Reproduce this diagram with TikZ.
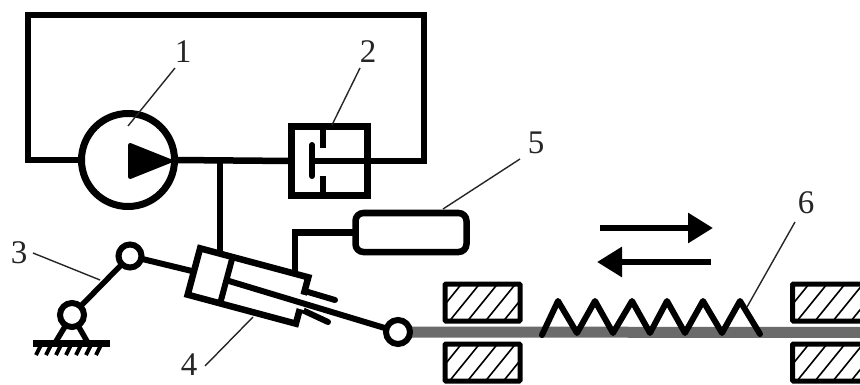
\documentclass[tikz,border=0pt]{standalone}
\usepackage{fontspec}
\setmainfont{Liberation Serif}
\usetikzlibrary{arrows.meta,calc}

\begin{document}
\begin{tikzpicture}[x=1pt,y=-1pt,line join=miter,
 pipe/.style={line width=6.5pt,draw=black},
 joint/.style={draw,circle,line width=6pt,fill=white,minimum size=24pt,inner sep=0pt,outer sep=0pt},
 leader/.style={line width=1.4pt,draw=black!85},
 numlabel/.style={font=\fontsize{33}{33}\selectfont,text=black!85,inner sep=0pt},
 bearing/.style={draw,line width=5pt,rounded corners=1pt,minimum width=75pt,minimum height=37pt,inner sep=0pt,outer sep=0pt,
  path picture={\foreach \k in {-72,-54,...,72} \draw[line width=1.6pt] ([xshift=\k pt-15pt]path picture bounding box.south) -- ([xshift=\k pt+15pt]path picture bounding box.north);}},
 motion/.style={line width=6pt,-{Triangle[length=25pt,width=29pt]}}]
\useasboundingbox (0,0) rectangle (860,385);
\clip (0,0) rectangle (860,385);
\fill[white] (0,0) rectangle (860,385);
% shaft
\coordinate (shaftstart) at (398,332);
\coordinate (shaftend) at (860,332.5);
\draw[line width=11pt,draw=black!58] (shaftstart) -- (shaftend);
% hydraulic circuit
\node[draw,circle,line width=7pt,minimum size=93pt,inner sep=0pt,outer sep=0pt,fill=white] (pump) at (128,160) {};
\node[draw,line width=7pt,minimum width=76pt,minimum height=69pt,inner sep=0pt,outer sep=0pt,fill=white] (valve) at (329.5,161) {};
\coordinate (looptl) at (28,15);
\coordinate (looptr) at (424,15);
\coordinate (tee) at (220,161);
\draw[pipe] (pump.west) -| (looptl) -- (looptr) |- (valve.east);
\draw[pipe] (pump.east) -- (valve.west);
\draw[line width=4pt,line join=round,fill=black] (130,145) -- (170,161) -- (130,177) -- cycle;
\coordinate (spool) at (312,161);
\draw[line width=6pt,line cap=round] (312,145) -- (312,176);
\draw[line width=6pt] (spool) -- (valve.east);
\draw[line width=6pt] (valve.north -| 323,0) -- (323,148);
\draw[line width=6pt] (valve.south -| 323,0) -- (323,176);
% cylinder
\coordinate (cylport) at (220,258);
\draw[pipe] (tee) -- (cylport);
\node[draw,line width=6.5pt,rounded corners=8pt,minimum width=111pt,minimum height=39pt,fill=white,inner sep=0pt,outer sep=0pt] (sensor) at (411,232.5) {};
\coordinate (sensorport) at (295,275);
\draw[pipe] (sensor.west) -| (sensorport);
\draw[line width=6pt,line cap=round] (308,292) -- (335,300);
\draw[line width=6pt,line cap=round] (298,308) -- (328,322);
\node[draw,line width=6.5pt,rotate=-15,minimum width=112pt,minimum height=48pt,inner sep=0pt,outer sep=0pt,fill=white] (cyl) at (248,286) {};
\coordinate (pistontop) at ($(cyl.north west)!0.3!(cyl.north east)$);
\coordinate (pistonbot) at ($(cyl.south west)!0.3!(cyl.south east)$);
\coordinate (piston) at ($(pistontop)!0.5!(pistonbot)$);
\node[joint] (rodend) at (398,332) {};
\draw[white,line width=8pt] (304,295) -- (300,309);
\draw[line width=6pt] (pistontop) -- (pistonbot);
\draw[line width=6pt] (piston) -- (rodend);
% crank
\node[joint,minimum size=23pt] (crank) at (130,256) {};
\node[joint] (pivot) at (72,315) {};
\coordinate (groundl) at (33,343);
\coordinate (groundr) at (110,343);
\draw[line width=5.5pt] (pivot) -- (crank);
\draw[line width=6pt] (crank) -- (cyl.west);
\draw[line width=5.5pt] (pivot) -- (55,343);
\draw[line width=5.5pt] (pivot) -- (88,343);
\draw[line width=7pt] (groundl) -- (groundr);
\foreach \x in {41,51,...,108}
 \draw[line width=4pt] (\x,345) -- (\x-5,355);
% bearings
\node[bearing] (bearingtl) at (482.5,302.5) {};
\node[bearing] (bearingbl) at (482.5,362.5) {};
\node[bearing] (bearingtr) at (830,302.5) {};
\node[bearing] (bearingbr) at (830,362.5) {};
% spring
\draw[line width=6pt,line cap=round,line join=round] (542,335) -- (558,301) -- (577,333) -- (595,301) -- (613,333) -- (632,301) -- (650,333) -- (667,301) -- (685,333) -- (703,301) -- (722,333) -- (740,301) -- (760,334);
% direction
\coordinate (fwdstart) at (600,228);
\coordinate (fwdend) at (713,228);
\coordinate (backstart) at (711,262);
\coordinate (backend) at (597,262);
\draw[motion] (fwdstart) -- (fwdend);
\draw[motion] (backstart) -- (backend);
% labels
\node[numlabel] (num1) at (183,52) {1};
\node[numlabel] (num2) at (368,52) {2};
\node[numlabel] (num3) at (19,253) {3};
\node[numlabel] (num4) at (189,365) {4};
\node[numlabel] (num5) at (536,143) {5};
\node[numlabel] (num6) at (806,203) {6};
\draw[leader] (num1) ++(-8,16) -- (128,126);
\draw[leader] (num2) ++(-8,16) -- (332,125);
\draw[leader] (33,253) -- (100,280);
\draw[leader] (205,366) -- (253,317);
\draw[leader] (num5) ++(-16,16) -- (443,209);
\draw[leader] (795,222) -- (747,307);
\end{tikzpicture}
\end{document}
